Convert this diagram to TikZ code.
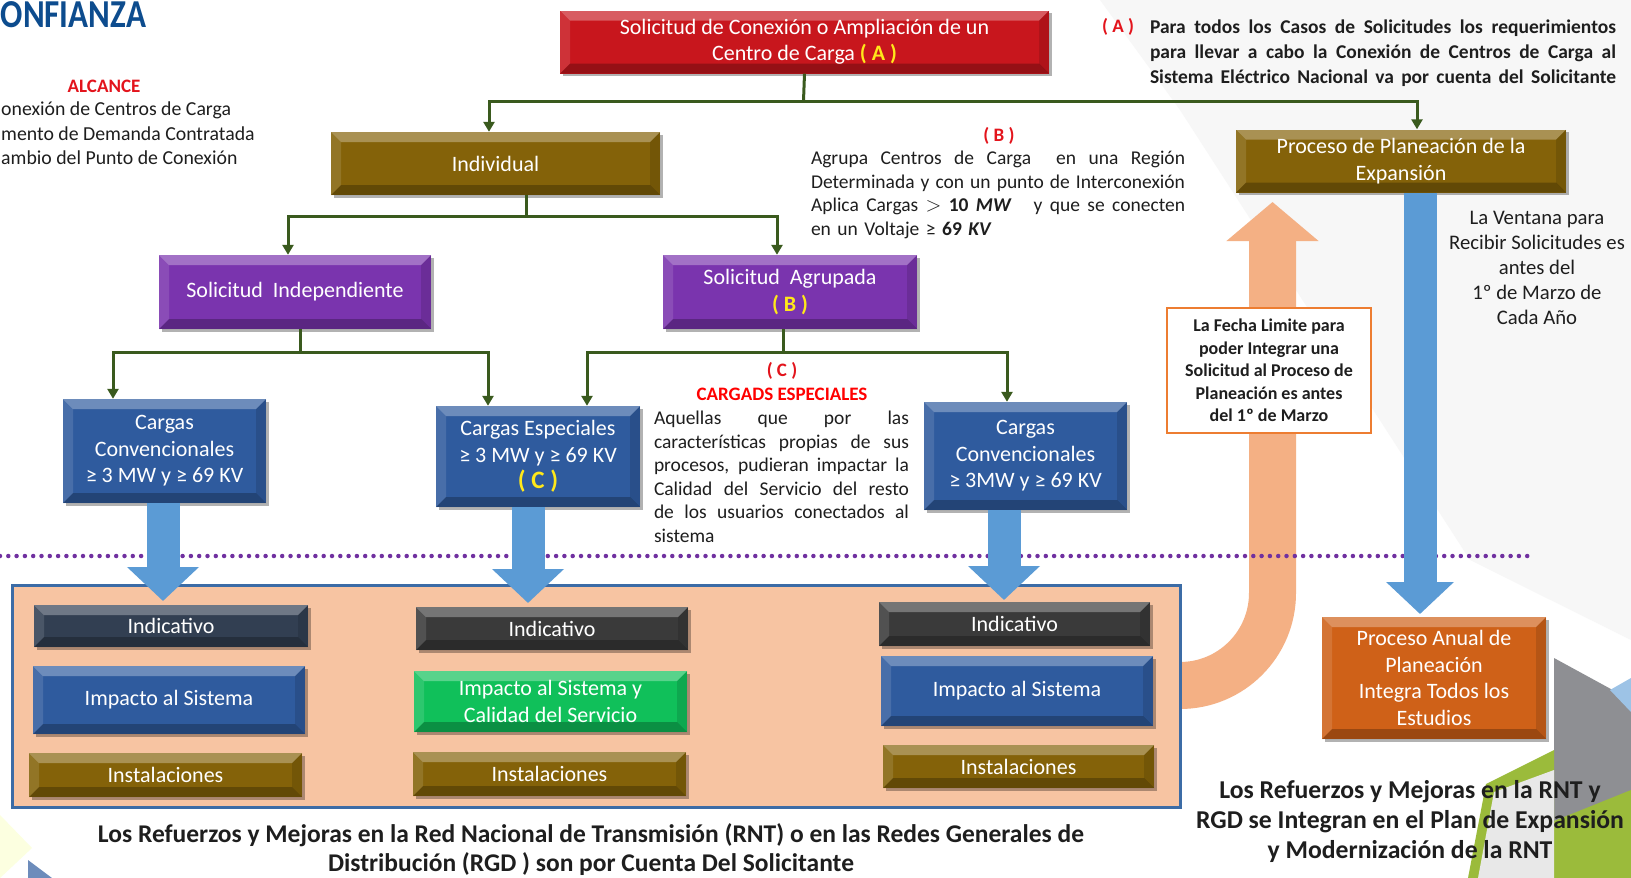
\documentclass[tikz,border=0pt]{standalone}
\usepackage{fontspec}
\setmainfont{Carlito}
\usetikzlibrary{arrows.meta,shadows,calc}
\definecolor{cred}{HTML}{C8161D}
\definecolor{colive}{HTML}{846209}
\definecolor{cpurple}{HTML}{7A34AE}
\definecolor{cblue}{HTML}{2F5B9E}
\definecolor{cnavy}{HTML}{323F52}
\definecolor{cdark}{HTML}{3A3A3A}
\definecolor{cgreen}{HTML}{10C05A}
\definecolor{corange}{HTML}{CF6118}
\definecolor{cpeach}{HTML}{F7C4A2}
\definecolor{cpeachd}{HTML}{F4B084}
\definecolor{cframe}{HTML}{3C6CA6}
\definecolor{carrow}{HTML}{5B9BD5}
\definecolor{cconn}{HTML}{3A5A1E}
\definecolor{cdots}{HTML}{7030A0}
\definecolor{ctitle}{HTML}{0D4C8E}
\definecolor{cyel}{HTML}{FFE81A}
\definecolor{cann}{HTML}{E3141C}
\definecolor{cbox}{HTML}{ED7D31}
\definecolor{ctext}{HTML}{1E1E1E}
\definecolor{cgrayd}{HTML}{8E8F93}
\definecolor{cgreenl}{HTML}{9BBB3B}
\newdimen\bvd
\bvd=10pt
\newcommand{\jline}[2]{\leavevmode\hbox to #1{\spaceskip=0.25em plus 1fil\relax #2}}
\begin{document}
\begin{tikzpicture}[x=1pt,y=-1pt,
  bevel/.style={rectangle, inner sep=2pt, text=white, align=center,
    font=\fontsize{22}{26.5}\selectfont, fill=#1,
    drop shadow={shadow xshift=2.5pt, shadow yshift=-2.5pt, opacity=0.3, fill=black},
    path picture={
      \coordinate (bnw) at (path picture bounding box.north west);
      \coordinate (bne) at (path picture bounding box.north east);
      \coordinate (bsw) at (path picture bounding box.south west);
      \coordinate (bse) at (path picture bounding box.south east);
      \fill[white,opacity=0.30] (bnw) -- (bne) -- ([shift={(-\bvd,-\bvd)}]bne) -- ([shift={(\bvd,-\bvd)}]bnw) -- cycle;
      \fill[white,opacity=0.12] (bnw) -- ([shift={(\bvd,-\bvd)}]bnw) -- ([shift={(\bvd,\bvd)}]bsw) -- (bsw) -- cycle;
      \fill[black,opacity=0.25] (bsw) -- (bse) -- ([shift={(-\bvd,\bvd)}]bse) -- ([shift={(\bvd,\bvd)}]bsw) -- cycle;
      \fill[black,opacity=0.12] (bne) -- (bse) -- ([shift={(-\bvd,\bvd)}]bse) -- ([shift={(-\bvd,-\bvd)}]bne) -- cycle;
    }},
  conn/.style={draw=cconn, line width=3pt},
  connarr/.style={conn, -{Triangle[length=10pt,width=11pt]}},
  bigarr/.style={draw=carrow, line width=33pt, -{Triangle[length=34pt,width=70pt]}},
  ann/.style={text=ctext, font=\fontsize{19.5}{23.5}\selectfont, inner sep=0pt},
  redlab/.style={text=cann, font=\bfseries\fontsize{19}{23}\selectfont, inner sep=0pt},
  bottomtxt/.style={text=ctext, font=\bfseries\fontsize{25.5}{29}\selectfont, align=center, inner sep=0pt}
]
\useasboundingbox (0,0) rectangle (1631,878);
\fill[white] (0,0) rectangle (1631,878);
% background decorations
\fill[gray!6] (1030,0) -- (1631,0) -- (1631,640) -- (1470,560) -- (1180,110) -- (1100,0) -- cycle;
\fill[cgrayd] (1554,658) -- (1631,700) -- (1631,800) -- (1554,821) -- cycle;
\fill[carrow!60] (1610,690) -- (1631,678) -- (1631,712) -- cycle;
\fill[cgreenl] (1486,784) -- (1554,750) -- (1554,821) -- (1631,790) -- (1631,878) -- (1468,878) -- cycle;
\fill[gray!18] (1494,792) -- (1554,770) -- (1554,878) -- (1478,878) -- cycle;
\fill[green!10!yellow!12] (0,815) -- (32,848) -- (0,878) -- cycle;
\fill[cblue!70] (28,860) -- (52,878) -- (28,878) -- cycle;

% title and scope
\node[anchor=west, text=ctitle, font=\bfseries\fontsize{33}{40}\selectfont, inner sep=0pt] (title) at (0.5,15) {\scalebox{1}[1.2]{ONFIANZA}};
\node[redlab] (alc) at (104,86) {ALCANCE};
\node[ann, font=\fontsize{19.8}{24}\selectfont, anchor=west] (al1) at (1,110) {onexión de Centros de Carga};
\node[ann, font=\fontsize{19.8}{24}\selectfont, anchor=west] (al2) at (1,134) {mento de Demanda Contratada};
\node[ann, font=\fontsize{19.8}{24}\selectfont, anchor=west] (al3) at (1,158) {ambio del Punto de Conexión};

% orange return arrow (behind frame)
\draw[draw=cpeachd, line width=47pt, -{Triangle[length=39pt,width=90pt]}] (1150,685.5) -- (1180,685.5) arc[start angle=90, end angle=0, radius=92.5] -- (1272.5,202);

% frame of studies
\node[draw=cframe, line width=3pt, fill=cpeach, minimum width=1168pt, minimum height=222pt, inner sep=0pt] (frame) at (596,696) {};

% dotted line
\coordinate (d0) at (0,556);
\coordinate (d1) at (1529,556);
\draw[cdots, line width=4.5pt, line cap=round, dash pattern=on 0pt off 8.3pt] (d0) -- (d1);

% main boxes
\node[bevel=cred, minimum width=489pt, minimum height=63pt] (red) at (804.5,42) {Solicitud de Conexión o Ampliación de un\\Centro de Carga \textbf{\color{cyel}( A )}};
\node[bevel=colive, minimum width=329pt, minimum height=63pt] (indiv) at (495.5,163.5) {Individual};
\node[bevel=colive, minimum width=330pt, minimum height=63pt] (plan) at (1401,161) {Proceso de Planeación de la\\Expansión};
\node[bevel=cpurple, minimum width=272pt, minimum height=74pt] (sind) at (295,292) {Solicitud\ \ Independiente};
\node[bevel=cpurple, minimum width=254pt, minimum height=74pt] (sagr) at (790,292) {Solicitud\ \ Agrupada\\\textbf{\color{cyel}( B )}};
\node[bevel=cblue, minimum width=203pt, minimum height=104pt] (ccl) at (164.5,451) {Cargas\\Convencionales\\≥ 3 MW y ≥ 69 KV};
\node[bevel=cblue, minimum width=204pt, minimum height=101pt] (cesp) at (538,456.5) {Cargas Especiales\\≥ 3 MW y ≥ 69 KV\\{\bfseries\fontsize{25}{26.5}\selectfont\color{cyel}( C )}};
\node[bevel=cblue, minimum width=203pt, minimum height=108pt] (ccr) at (1025.5,456) {Cargas\\Convencionales\\≥ 3MW y ≥ 69 KV};

% studies boxes
\node[bevel=cnavy, minimum width=274pt, minimum height=42pt] (ind1) at (171,626) {Indicativo};
\node[bevel=cblue, minimum width=272pt, minimum height=68pt] (imp1) at (169,700) {Impacto al Sistema};
\node[bevel=colive, minimum width=273pt, minimum height=44pt] (ins1) at (165.5,775) {Instalaciones};
\node[bevel=cdark, minimum width=272pt, minimum height=43pt] (ind2) at (552,628.5) {Indicativo};
\node[bevel=cgreen, minimum width=273pt, minimum height=61pt] (imp2) at (550.5,701.5) {Impacto al Sistema y\\Calidad del Servicio};
\node[bevel=colive, minimum width=273pt, minimum height=44pt] (ins2) at (549.5,774) {Instalaciones};
\node[bevel=cdark, minimum width=271pt, minimum height=44pt] (ind3) at (1014.5,624) {Indicativo};
\node[bevel=cblue, minimum width=272pt, minimum height=70pt] (imp3) at (1017,691) {Impacto al Sistema};
\node[bevel=colive, minimum width=271pt, minimum height=43pt] (ins3) at (1018.5,766.5) {Instalaciones};

\node[bevel=corange, minimum width=224pt, minimum height=122pt] (anual) at (1434,678) {Proceso Anual de\\Planeación\\Integra Todos los\\Estudios};

% connectors
\coordinate (j0) at (803.5,101);
\draw[conn] (red.south) -- (j0);
\draw[connarr] (j0) -| ([xshift=-6.5pt]indiv.north);
\draw[connarr] (j0) -| ([xshift=16pt]plan.north);
\coordinate (j1) at (526,216);
\draw[conn] ([xshift=30.5pt]indiv.south) -- (j1);
\draw[connarr] (j1) -| ([xshift=-7pt]sind.north);
\draw[connarr] (j1) -| ([xshift=-13pt]sagr.north);
\coordinate (j2) at (300,352);
\draw[conn] ([xshift=5pt]sind.south) -- (j2);
\draw[connarr] (j2) -| ([xshift=-51.5pt]ccl.north);
\draw[connarr] (j2) -| ([xshift=-50pt]cesp.north);
\coordinate (j3) at (783,352);
\draw[conn] ([xshift=-7pt]sagr.south) -- (j3);
\draw[connarr] (j3) -| ([xshift=49pt]cesp.north);
\draw[connarr] (j3) -| ([xshift=-18.5pt]ccr.north);

% big blue arrows
\coordinate (t1) at (163,601);
\coordinate (t2) at (528,603);
\coordinate (t3) at (1004,600);
\coordinate (t4) at (1420,614);
\draw[bigarr] ([xshift=-1.5pt]ccl.south) -- (t1);
\draw[bigarr] ([xshift=-10pt]cesp.south) -- (t2);
\draw[bigarr] ([xshift=-21.5pt]ccr.south) -- (t3);
\draw[draw=carrow, line width=33pt, -{Triangle[length=32pt,width=66pt]}] ([xshift=19pt]plan.south) -- (t4);

% deadline box
\node[draw=cbox, line width=2pt, fill=white, minimum width=204pt, minimum height=125pt, align=center, text=ctext, font=\bfseries\fontsize{18}{22.4}\selectfont] (fecha) at (1269,370.5) {La Fecha Limite para\\poder Integrar una\\Solicitud al Proceso de\\Planeación es antes\\del 1º de Marzo};

% annotations
\node[ann, align=center, font=\fontsize{20.7}{25}\selectfont] (vent) at (1537,268) {La Ventana para\\Recibir Solicitudes es\\antes del\\1º de Marzo de\\Cada Año};

\node[redlab] (alab) at (1118,27) {( A )};
\node[ann, font=\bfseries\fontsize{19.5}{25}\selectfont, align=left, text width=466pt] (atxt) at (1383,53) {\jline{466pt}{Para todos los Casos de Solicitudes los requerimientos}\\\jline{466pt}{para llevar a cabo la Conexión de Centros de Carga al}\\\jline{466pt}{Sistema Eléctrico Nacional va por cuenta del Solicitante}};

\node[redlab] (blab) at (999,136) {( B )};
\node[ann, align=left, text width=374pt] (btxt) at (998,195) {\jline{374pt}{Agrupa Centros de Carga\ \ en una Región}\\\jline{374pt}{Determinada y con un punto de Interconexión}\\\jline{374pt}{Aplica Cargas $>$ \textbf{10} \textbf{\textit{MW}}\ \ \ y que se conecten}\\en un Voltaje ≥ \textbf{69} \textbf{\textit{KV}}};

\node[redlab] (clab) at (782,371) {( C )};
\node[redlab, text=red] (clab2) at (782,394) {CARGADS ESPECIALES};
\node[ann, align=left, text width=255pt] (ctxt) at (781.5,477) {\jline{255pt}{Aquellas que por las}\\\jline{255pt}{características propias de sus}\\\jline{255pt}{procesos, pudieran impactar la}\\\jline{255pt}{Calidad del Servicio del resto}\\\jline{255pt}{de los usuarios conectados al}\\sistema};

\node[bottomtxt] (bl) at (591,850) {Los Refuerzos y Mejoras en la Red Nacional de Transmisión (RNT) o en las Redes Generales de\\Distribución (RGD ) son por Cuenta Del Solicitante};
\node[bottomtxt, font=\bfseries\fontsize{25.7}{30}\selectfont] (br) at (1410,821) {Los Refuerzos y Mejoras en la RNT y\\RGD se Integran en el Plan de Expansión\\y Modernización de la RNT};
\end{tikzpicture}
\end{document}
